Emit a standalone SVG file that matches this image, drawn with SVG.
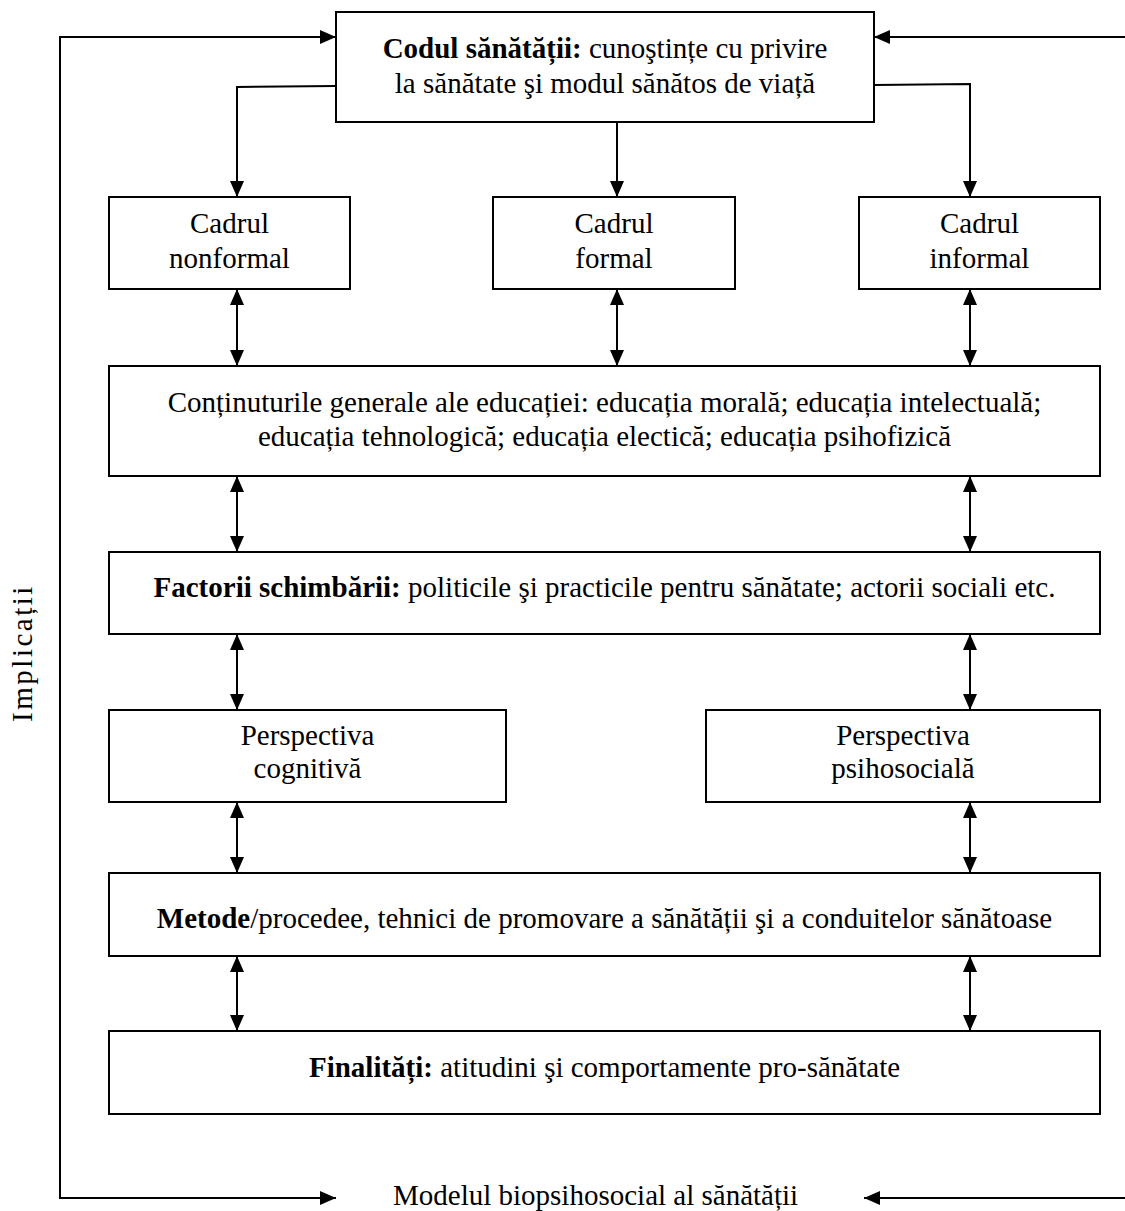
<svg xmlns="http://www.w3.org/2000/svg" width="1125" height="1211" viewBox="0 0 1125 1211">
<style>
.box{fill:#fff;stroke:#000;stroke-width:2}
.ln{fill:none;stroke:#000;stroke-width:2}
text{font-family:"Liberation Serif","Times New Roman",serif;font-size:29px;fill:#000}
.c{text-anchor:middle}
.b{font-weight:bold}
</style>
<defs>
<marker id="ah" viewBox="0 0 16 14" refX="16" refY="7" markerWidth="16" markerHeight="14" markerUnits="userSpaceOnUse" orient="auto-start-reverse">
<path d="M0,0 L16,7 L0,14 z" fill="#000"/>
</marker>
</defs>
<rect width="1125" height="1211" fill="#fff"/>
<g id="connectors">
<path class="ln" d="M336,37 H60 V1198 H336" marker-start="url(#ah)" marker-end="url(#ah)"/>
<path class="ln" d="M874,37 H1130 V1198 H864" marker-start="url(#ah)" marker-end="url(#ah)"/>
<path class="ln" d="M336,86 L237,87 V197" marker-end="url(#ah)"/>
<path class="ln" d="M617,122 V197" marker-end="url(#ah)"/>
<path class="ln" d="M874,85 L970,84 V197" marker-end="url(#ah)"/>
<path class="ln" d="M237,289 V366" marker-start="url(#ah)" marker-end="url(#ah)"/>
<path class="ln" d="M617,289 V366" marker-start="url(#ah)" marker-end="url(#ah)"/>
<path class="ln" d="M970,289 V366" marker-start="url(#ah)" marker-end="url(#ah)"/>
<path class="ln" d="M237,476 V552" marker-start="url(#ah)" marker-end="url(#ah)"/>
<path class="ln" d="M970,476 V552" marker-start="url(#ah)" marker-end="url(#ah)"/>
<path class="ln" d="M237,634 V710" marker-start="url(#ah)" marker-end="url(#ah)"/>
<path class="ln" d="M970,634 V710" marker-start="url(#ah)" marker-end="url(#ah)"/>
<path class="ln" d="M237,802 V873" marker-start="url(#ah)" marker-end="url(#ah)"/>
<path class="ln" d="M970,802 V873" marker-start="url(#ah)" marker-end="url(#ah)"/>
<path class="ln" d="M237,956 V1031" marker-start="url(#ah)" marker-end="url(#ah)"/>
<path class="ln" d="M970,956 V1031" marker-start="url(#ah)" marker-end="url(#ah)"/>
</g>
<g id="codul">
<rect class="box" x="336" y="12" width="538" height="110"/>
<text class="c" x="605" y="58"><tspan class="b">Codul sănătății:</tspan> cunoştințe cu privire</text>
<text class="c" x="605" y="93">la sănătate şi modul sănătos de viață</text>
</g>
<g id="nonformal">
<rect class="box" x="109" y="197" width="241" height="92"/>
<text class="c" x="229.5" y="233">Cadrul</text>
<text class="c" x="229.5" y="268">nonformal</text>
</g>
<g id="formal">
<rect class="box" x="493" y="197" width="242" height="92"/>
<text class="c" x="614" y="233">Cadrul</text>
<text class="c" x="614" y="268">formal</text>
</g>
<g id="informal">
<rect class="box" x="859" y="197" width="241" height="92"/>
<text class="c" x="979.5" y="233">Cadrul</text>
<text class="c" x="979.5" y="268">informal</text>
</g>
<g id="continuturi">
<rect class="box" x="109" y="366" width="991" height="110"/>
<text class="c" x="604.5" y="412">Conținuturile generale ale educației: educația morală; educația intelectuală;</text>
<text class="c" x="604.5" y="446">educația tehnologică; educația electică; educația psihofizică</text>
</g>
<g id="factorii">
<rect class="box" x="109" y="552" width="991" height="82"/>
<text class="c" x="604.5" y="597"><tspan class="b">Factorii schimbării:</tspan> politicile şi practicile pentru sănătate; actorii sociali etc.</text>
</g>
<g id="cognitiva">
<rect class="box" x="109" y="710" width="397" height="92"/>
<text class="c" x="307.5" y="745">Perspectiva</text>
<text class="c" x="307.5" y="778">cognitivă</text>
</g>
<g id="psihosociala">
<rect class="box" x="706" y="710" width="394" height="92"/>
<text class="c" x="903" y="745">Perspectiva</text>
<text class="c" x="903" y="778">psihosocială</text>
</g>
<g id="metode">
<rect class="box" x="109" y="873" width="991" height="83"/>
<text class="c" x="604.5" y="928"><tspan class="b">Metode</tspan>/procedee, tehnici de promovare a sănătății şi a conduitelor sănătoase</text>
</g>
<g id="finalitati">
<rect class="box" x="109" y="1031" width="991" height="83"/>
<text class="c" x="604.5" y="1077"><tspan class="b">Finalități:</tspan> atitudini şi comportamente pro-sănătate</text>
</g>
<g id="model">
<text x="393" y="1205">Modelul biopsihosocial al sănătății</text>
</g>
<g id="implicatii">
<text class="c" transform="translate(32,653) rotate(-90)" style="font-size:29px;letter-spacing:2.5px">Implicații</text>
</g>
</svg>
